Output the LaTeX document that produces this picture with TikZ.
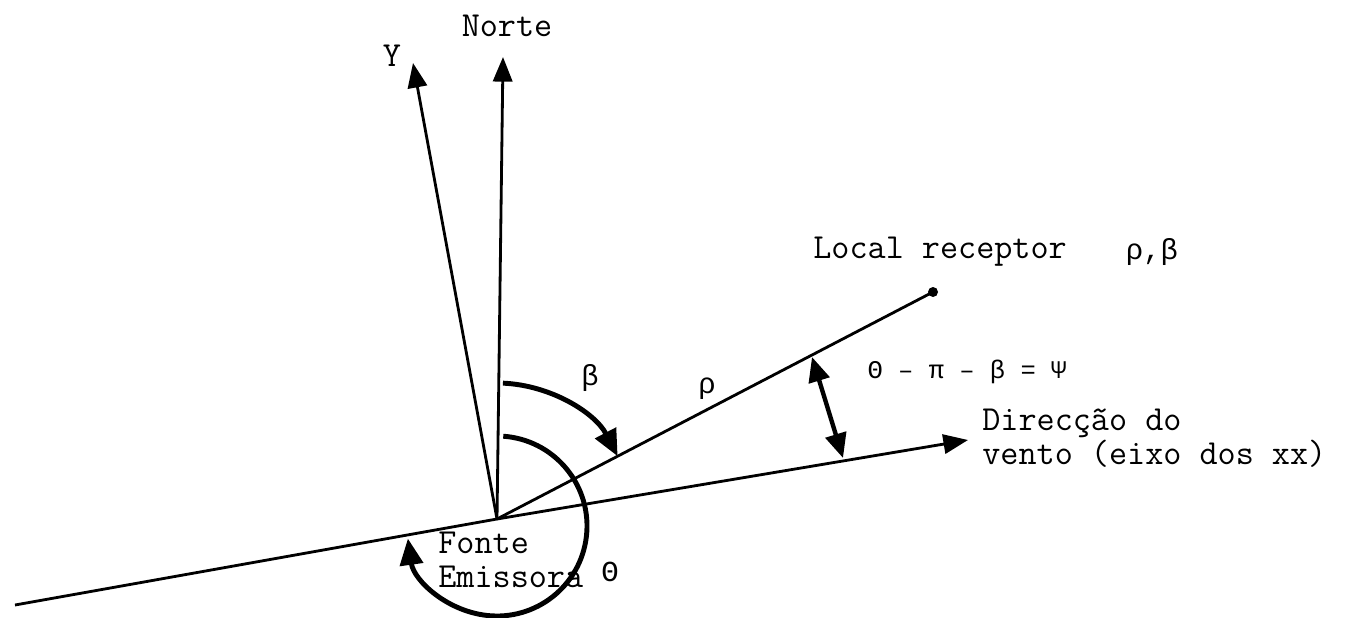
\documentclass[tikz,border=0pt]{standalone}
\usepackage{fontspec}
\setmainfont{Latin Modern Mono}
\newfontfamily\greekfont{Liberation Mono}
\usetikzlibrary{arrows.meta}
\tikzset{
  axisline/.style={line width=1.6pt, -{Triangle[length=14pt,width=11pt]}},
  plainline/.style={line width=1.6pt},
  arcline/.style={line width=2.8pt, -{Triangle[length=15pt,width=13pt]}},
  dbl/.style={line width=2.5pt, {Triangle[length=14pt,width=12pt]}-{Triangle[length=14pt,width=12pt]}},
  lbl/.style={inner sep=0pt, font=\fontsize{20}{22}\selectfont},
  glbl/.style={inner sep=0pt, font=\greekfont\fontsize{14.5}{16}\selectfont},
  gbig/.style={inner sep=0pt, font=\greekfont\fontsize{16.5}{18}\selectfont}
}
\begin{document}
\begin{tikzpicture}
\useasboundingbox (0,0) rectangle (27.08,12.34);
% points
\coordinate (O) at (9.94,1.96);
\coordinate (N) at (10.06,11.20);
\coordinate (Y) at (8.26,11.08);
\coordinate (R) at (18.66,6.50);
\coordinate (W) at (19.36,3.54);
\coordinate (L) at (0.30,0.24);
\coordinate (DA) at (16.24,5.20);
\coordinate (DB) at (16.86,3.18);
% axes
\draw[axisline] (O) -- (N);
\draw[axisline] (O) -- (Y);
\draw[axisline] (O) -- (W);
\draw[plainline] (O) -- (L);
\draw[plainline] (O) -- (R);
\fill (R) circle (0.1);
% arcs
\draw[arcline] (O) ++(87.5:2.72) arc[start angle=87.5, end angle=27.5, radius=2.72];
\draw[arcline] (9.94,1.82) ++(86:1.8) arc[start angle=86, end angle=-172, radius=1.8];
% double arrow
\draw[dbl] (DA) -- (DB);
% labels
\node[lbl] (norte) at (10.14,11.82) {Norte};
\node[lbl] (ylab) at (7.84,11.22) {Y};
\node[lbl, anchor=west] (local) at (16.26,7.30) {Local receptor};
\node[gbig] (rb) at (23.04,7.30) {ρ,β};
\node[glbl] (psi) at (19.34,4.90) {Θ – π – β = Ψ};
\node[lbl, anchor=base west, align=left, font=\fontsize{20}{16.5}\selectfont] (dir) at (19.64,3.06) {Direcção do\\vento (eixo dos xx)};
\node[lbl, anchor=west, align=left, font=\fontsize{20}{19.5}\selectfont] (fonte) at (8.76,1.14) {Fonte\\Emissora};
\node[gbig] (beta) at (11.80,4.78) {β};
\node[gbig] (rho) at (14.14,4.56) {ρ};
\node[gbig] (theta) at (12.20,0.90) {Θ};
\end{tikzpicture}
\end{document}
